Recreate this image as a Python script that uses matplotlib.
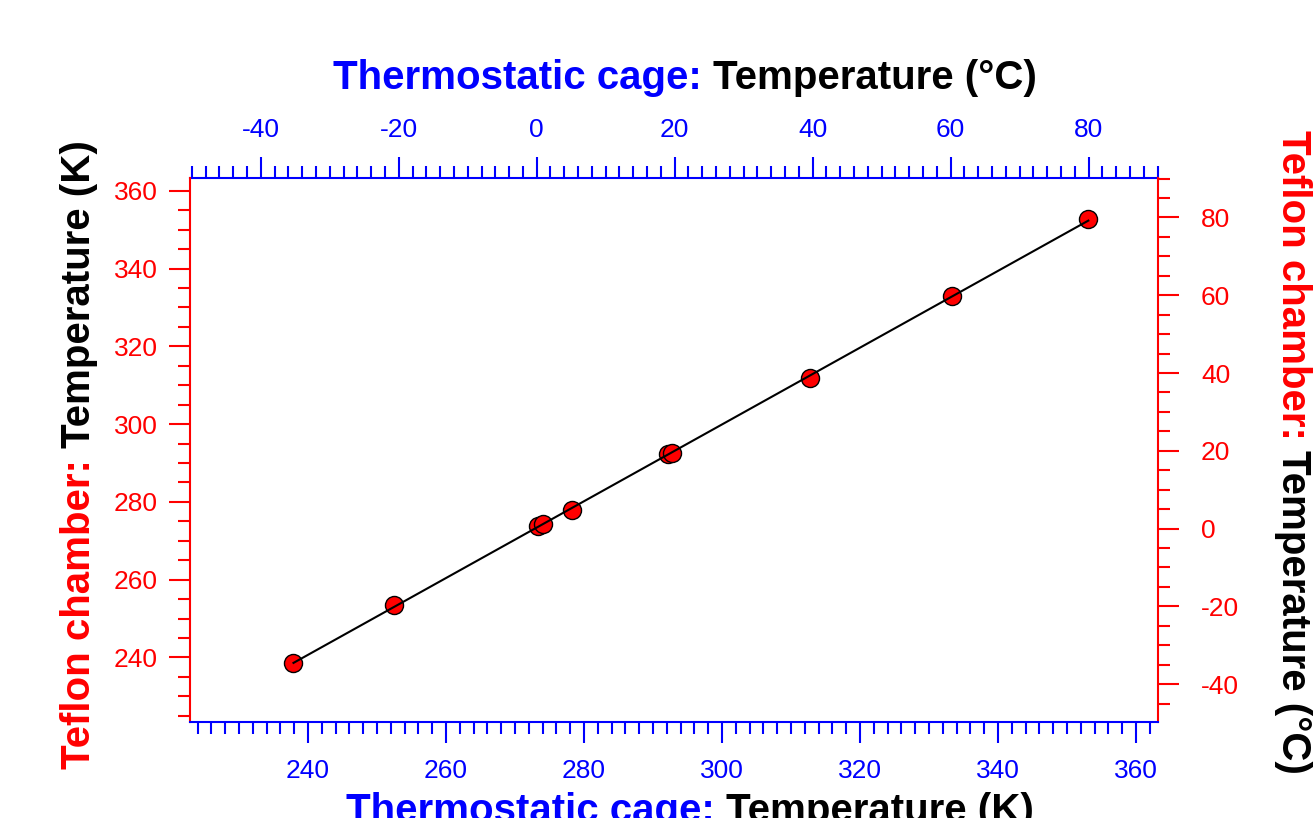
import numpy as np
import matplotlib
matplotlib.use("Agg")
import matplotlib.pyplot as plt
from matplotlib.ticker import MultipleLocator
from matplotlib.transforms import IdentityTransform

plt.rcParams['font.family'] = ['Liberation Sans', 'DejaVu Sans']
plt.rcParams['axes.unicode_minus'] = False

# temperatures, in K
cage_K = [237.9, 252.4, 273.4, 274.0, 278.2, 292.2, 292.8, 312.8, 333.3, 353.1]
teflon_K = [238.5, 253.4, 273.9, 274.4, 277.8, 292.4, 292.6, 311.9, 332.9, 352.7]

W, H = 1316, 818
fig = plt.figure(figsize=(W / 100, H / 100), dpi=100)
ax = fig.add_axes([190 / W, 96 / H, 968 / W, 544 / H])

# linear fit
t = np.polyfit(cage_K, teflon_K, 1)
xs = np.array([min(cage_K), max(cage_K)])
ax.plot(cage_K, teflon_K, linestyle='None', marker='o', ms=13,
        mfc='red', mec='black', mew=1, zorder=2)
ax.plot(xs, np.polyval(t, xs), color='black', lw=1.5, zorder=3)

ax.set_xlim(222.9, 363.2)
ax.set_ylim(223.4, 363.3)


def k2c(k):
    return k - 273.15


def c2k(c):
    return c + 273.15


top = ax.secondary_xaxis('top', functions=(k2c, c2k))
right = ax.secondary_yaxis('right', functions=(k2c, c2k))

ax.spines['top'].set_visible(False)
ax.spines['right'].set_visible(False)
ax.spines['bottom'].set_color('blue')
ax.spines['left'].set_color('red')
top.spines['top'].set_color('blue')
right.spines['right'].set_color('red')
for a in (ax, top, right):
    for s in a.spines.values():
        s.set_linewidth(1.5)

ax.xaxis.set_major_locator(MultipleLocator(20))
ax.xaxis.set_minor_locator(MultipleLocator(2))
ax.yaxis.set_major_locator(MultipleLocator(20))
ax.yaxis.set_minor_locator(MultipleLocator(5))
top.xaxis.set_major_locator(MultipleLocator(20))
top.xaxis.set_minor_locator(MultipleLocator(2))
right.yaxis.set_major_locator(MultipleLocator(20))
right.yaxis.set_minor_locator(MultipleLocator(5))

ax.tick_params(axis='x', which='both', direction='out', colors='blue', width=1.5, labelsize=19, pad=12)
ax.tick_params(axis='y', which='both', direction='out', colors='red', width=1.5, labelsize=19, pad=8)
top.tick_params(axis='x', which='both', direction='out', colors='blue', width=1.5, labelsize=19, pad=11)
right.tick_params(axis='y', which='both', direction='out', colors='red', width=1.5, labelsize=19, pad=16)
for a in (ax, top, right):
    a.tick_params(which='major', length=15)
    a.tick_params(which='minor', length=8.5)


def two_tone(x, y, parts, rot):
    # axis title in two colours, x/y = centre in pixels
    r = fig.canvas.get_renderer()
    d = {0: (1, 0), 90: (0, 1), -90: (0, -1)}[rot]
    ws = []
    for s, c in parts:
        tt = fig.text(0, 0, s, fontsize=29, fontweight='bold')
        ws.append(tt.get_window_extent(r).width)
        tt.remove()
    gap = 11
    total = sum(ws) + gap * (len(parts) - 1)
    px, py = x - d[0] * total / 2, y - d[1] * total / 2
    for (s, c), w in zip(parts, ws):
        fig.text(px, py, s, color=c, fontsize=29, fontweight='bold', rotation=rot,
                 rotation_mode='anchor', ha='left', va='baseline',
                 transform=IdentityTransform())
        px += d[0] * (w + gap)
        py += d[1] * (w + gap)


two_tone(685, H - 89, [('Thermostatic cage:', 'blue'), ('Temperature (°C)', 'black')], 0)
two_tone(690, H - 822, [('Thermostatic cage:', 'blue'), ('Temperature (K)', 'black')], 0)
two_tone(90, H - 455, [('Teflon chamber:', 'red'), ('Temperature (K)', 'black')], 90)
two_tone(1282, H - 452, [('Teflon chamber:', 'red'), ('Temperature (°C)', 'black')], -90)

fig.savefig("out.png", dpi=100)
